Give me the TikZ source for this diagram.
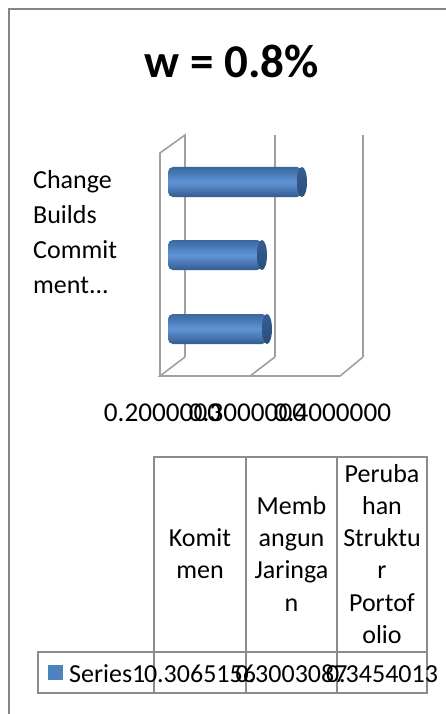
\documentclass[tikz,border=0pt]{standalone}
\usepackage{fontspec}
\setmainfont{Carlito}
\definecolor{framegray}{HTML}{868686}
\definecolor{gridgray}{HTML}{A0A0A0}
\definecolor{tablegray}{HTML}{8C8C8C}
\definecolor{barblue}{HTML}{4F81BD}
\definecolor{bartop}{HTML}{3A679F}
\definecolor{barmid}{HTML}{5F95D6}
\definecolor{barbot}{HTML}{335C90}
\definecolor{capcol}{HTML}{355E92}
\definecolor{capdark}{HTML}{2B4E7A}
\tikzset{
  lbl/.style={inner sep=0pt, font=\fontsize{26}{32}\selectfont},
  axlbl/.style={inner sep=0pt, font=\fontsize{27.2}{32}\selectfont},
  gridline/.style={draw=gridgray, line width=1.6pt},
  tableline/.style={draw=tablegray, line width=2pt},
}
\newcommand\cylbar[2]{%
  \shade[top color=bartop, bottom color=barbot, middle color=barmid, rounded corners=5pt]
    (168,#2) rectangle (#1,#2+30);
  \shade[top color=capcol, bottom color=capdark] (#1,#2+15) ellipse [x radius=5, y radius=15];
}
\begin{document}
\begin{tikzpicture}[x=1pt,y=-1pt]
\useasboundingbox (0,0) rectangle (446,714);
\fill[white] (0,0) rectangle (446,714);
\draw[framegray, line width=2pt] (9,714) -- (9,9) -- (446,9);
% title
\node[inner sep=0pt, font=\fontsize{47}{50}\selectfont\bfseries, anchor=base] (title) at (232,78) {w = 0.8\%};
% chart walls
\draw[gridline] (160,376) -- (160,153) -- (185,135) -- (185,357);
\draw[gridline] (275,135) -- (275,357);
\draw[gridline] (363,135) -- (363,357);
\draw[gridline] (185,357) -- (160,376) -- (340,376) -- (363,357);
\draw[gridline] (250,376) -- (275,357);
% bars
\cylbar{302}{167}
\cylbar{262}{240}
\cylbar{267}{314}
% category label
\node[lbl, anchor=base west] (c1) at (33,188) {Change};
\node[lbl, anchor=base west] (c2) at (33,223) {Builds};
\node[lbl, anchor=base west] (c3) at (33,258) {Commit};
\node[lbl, anchor=base west] (c4) at (33,293) {ment...};
% axis labels
\node[axlbl, anchor=base] (a1) at (162.5,421) {0.2000000};
\node[axlbl, anchor=base] (a2) at (247.5,421) {0.3000000};
\node[axlbl, anchor=base] (a3) at (332.5,421) {0.4000000};
% table
\draw[tableline] (154,693) -- (154,457) -- (427,457) -- (427,693);
\draw[tableline] (246,457) -- (246,693);
\draw[tableline] (337,457) -- (337,693);
\draw[tableline] (38,652) rectangle (427,693);
% header texts
\node[lbl, anchor=base] (k1) at (200,546) {Komit};
\node[lbl, anchor=base] (k2) at (200,578) {men};
\node[lbl, anchor=base] (m1) at (291.5,514) {Memb};
\node[lbl, anchor=base] (m2) at (291.5,546) {angun};
\node[lbl, anchor=base] (m3) at (291.5,578) {Jaringa};
\node[lbl, anchor=base] (m4) at (291.5,611) {n};
\node[lbl, anchor=base] (p1) at (382,482) {Peruba};
\node[lbl, anchor=base] (p2) at (382,514) {han};
\node[lbl, anchor=base] (p3) at (382,546) {Struktu};
\node[lbl, anchor=base] (p4) at (382,578) {r};
\node[lbl, anchor=base] (p5) at (382,611) {Portof};
\node[lbl, anchor=base] (p6) at (382,643) {olio};
% row
\fill[barblue] (48,665) rectangle (63,680);
\node[lbl, anchor=base west] (s1) at (69,682) {Series1};
\node[lbl, anchor=base] (v1) at (200,682) {0.3065156};
\node[lbl, anchor=base] (v2) at (291.5,682) {0.3003087};
\node[lbl, anchor=base] (v3) at (382,682) {0.3454013};
\end{tikzpicture}
\end{document}
